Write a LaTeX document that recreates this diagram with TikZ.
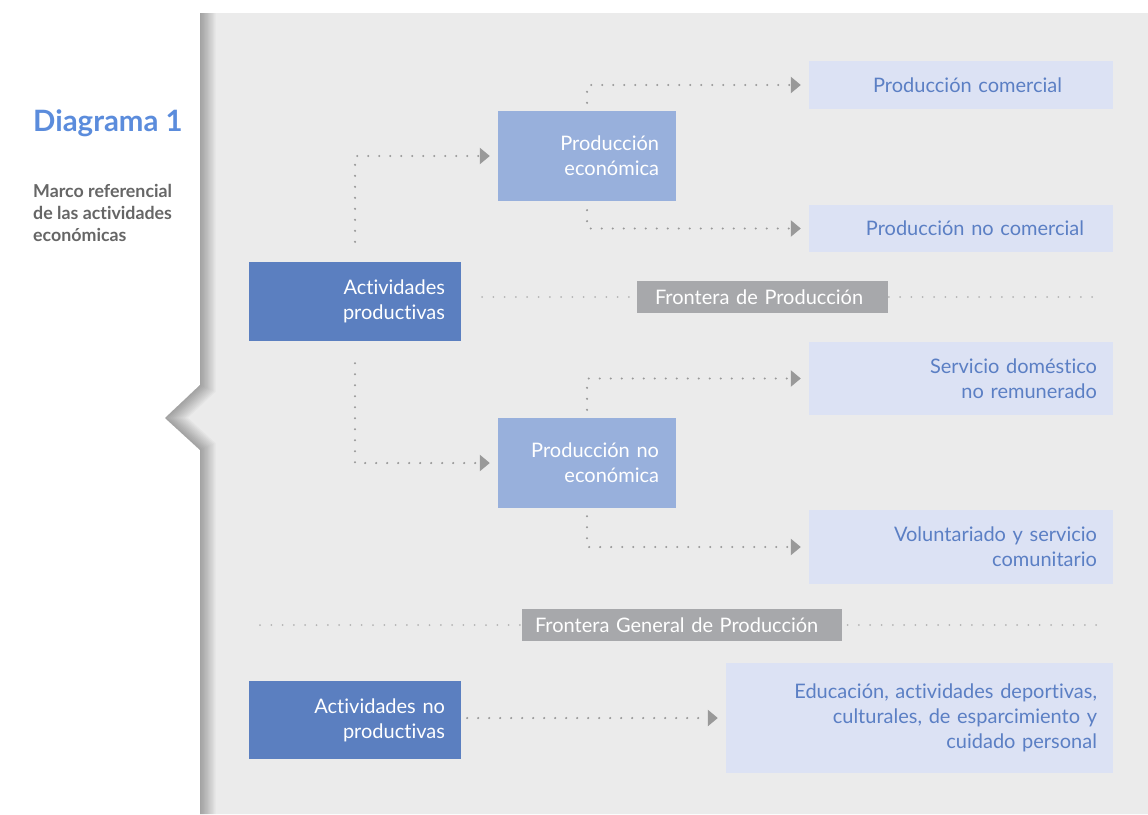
\documentclass[tikz,border=0pt]{standalone}
\usepackage{fontspec}
\setmainfont{Lato}[Ligatures=NoCommon]
\usepackage{xcolor}
\usepackage{tikz}
\usetikzlibrary{positioning}
\usetikzlibrary{arrows.meta}

\definecolor{bgGrey}{HTML}{EBEBEB}
\definecolor{boxDark}{HTML}{5B7FC0}
\definecolor{boxMid}{HTML}{98B0DC}
\definecolor{boxLight}{HTML}{DCE2F4}
\definecolor{textBlue}{HTML}{5B7FC4}
\definecolor{titleBlue}{HTML}{5B8CDC}
\definecolor{frontGrey}{HTML}{A7A8AB}
\definecolor{connGrey}{HTML}{999999}
\definecolor{dotGrey}{HTML}{B4B4B4}
\definecolor{subGrey}{HTML}{666666}

\begin{document}
\begin{tikzpicture}[x=1pt, y=-1pt,
    box/.style={inner ysep=0pt, align=right, font=\fontsize{20}{25}\selectfont},
    darkbox/.style={box, fill=boxDark, text=white, text width=180pt, inner xsep=16pt, minimum height=79pt},
    midbox/.style={box, fill=boxMid, text=white, text width=144pt, inner xsep=17pt, minimum height=90pt},
    lightbox/.style={box, fill=boxLight, text=textBlue},
    frontier/.style={fill=frontGrey, text=white, inner ysep=0pt, align=left,
        minimum height=32pt, font=\fontsize{20}{22}\selectfont},
    conn/.style={draw=connGrey, line width=2.4pt, line cap=round,
        dash pattern=on 0pt off 11pt, -{Triangle[length=10pt, width=16pt]}},
    border/.style={draw=dotGrey, line width=2pt, line cap=round,
        dash pattern=on 0pt off 11.3pt}]

    \useasboundingbox (0,0) rectangle (1148,814);

    % panel and grey field
    \fill[white] (0,0) rectangle (1148,814);
    \fill[bgGrey] (200,13) -- (1148,13) -- (1148,814) -- (200,814) -- (200,450)
        -- (165,418) -- (200,385) -- cycle;
    \begin{scope}
        \clip (200,13) -- (1148,13) -- (1148,814) -- (200,814) -- (200,450)
            -- (165,418) -- (200,385) -- cycle;
        \foreach \i in {1,...,12}
            \draw[black, opacity=0.026, line width=2.6*\i pt]
                (200,0) -- (200,385) -- (165,418) -- (200,450) -- (200,830);
    \end{scope}

    % title
    \node[anchor=base west, inner sep=0pt, text=titleBlue,
        font=\fontsize{29.4}{30}\selectfont\bfseries] (title) at (33,131) {Diagrama 1};
    \node[anchor=north west, inner sep=0pt, align=left, text=subGrey,
        font=\fontsize{17.8}{22}\selectfont\bfseries] (subtitle) at (33,184)
        {Marco referencial\\de las actividades\\económicas};

    % boxes
    \node[darkbox] (actprod) at (355,301.5) {Actividades\\productivas};
    \node[midbox] (prodeco) at (587,156) {Producción\\económica};
    \node[midbox] (prodnoeco) at (587,463) {Producción no\\económica};
    \node[lightbox, text width=202pt, inner xsep=51pt, minimum height=48pt]
        (prodcom) at (961,85) {Producción comercial};
    \node[lightbox, text width=246pt, inner xsep=29pt, minimum height=47pt]
        (prodnocom) at (961,228.5) {Producción no comercial};
    \node[lightbox, text width=272pt, inner xsep=16pt, minimum height=73pt]
        (servdom) at (961,378.5) {Servicio doméstico\\no remunerado};
    \node[lightbox, text width=272pt, inner xsep=16pt, minimum height=74pt]
        (volunt) at (961,547) {Voluntariado y servicio\\comunitario};
    \node[darkbox, minimum height=78pt] (actnoprod) at (355,720) {Actividades no\\productivas};
    \node[lightbox, text width=355pt, inner xsep=16pt, minimum height=110pt]
        (educ) at (919.5,718) {Educación, actividades deportivas,\\culturales, de esparcimiento y\\cuidado personal};

    % production frontiers
    \coordinate (fp-a) at (482,297);
    \coordinate (fp-b) at (1103,297);
    \coordinate (fg-a) at (260,625);
    \coordinate (fg-b) at (1100,625);
    \draw[border] (fp-a) -- (fp-b);
    \draw[border] (fg-a) -- (fg-b);
    \node[frontier, inner xsep=18pt, text width=215pt] (frontprod) at (762.5,297) {Frontera de Producción};
    \node[frontier, inner xsep=13pt, text width=294pt] (frontgen) at (682,625) {Frontera General de Producción};

    % connectors
    \draw[conn, shorten <=20pt, shorten >=8pt] (actprod.north) |- (prodeco.west);
    \draw[conn, shorten <=22pt, shorten >=8pt] (actprod.south) |- (prodnoeco.west);
    \draw[conn, shorten <=8pt, shorten >=8pt] (prodeco.north) |- (prodcom.west);
    \draw[conn, shorten <=9pt, shorten >=8pt] (prodeco.south) |- (prodnocom.west);
    \draw[conn, shorten <=8pt, shorten >=8pt] (prodnoeco.north) |- (servdom.west);
    \draw[conn, shorten <=8pt, shorten >=8pt] (prodnoeco.south) |- (volunt.west);
    \draw[conn, shorten <=6pt, shorten >=8pt] (actnoprod.east |- educ.west) -- (educ.west);
\end{tikzpicture}
\end{document}
